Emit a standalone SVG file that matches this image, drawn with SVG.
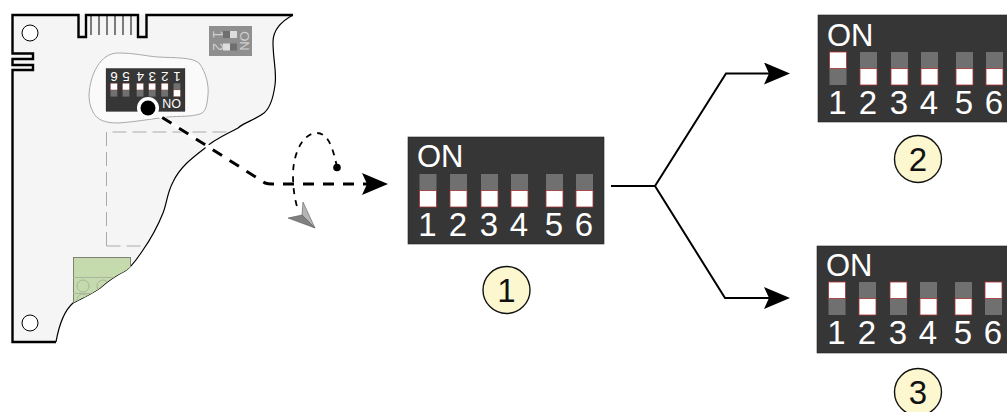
<svg xmlns="http://www.w3.org/2000/svg" width="1007" height="412" viewBox="0 0 1007 412">
<style>
.dip{fill:#363636;stroke:#222;stroke-width:.6}
.t{font-family:"Liberation Sans",Arial,sans-serif;fill:#fff;font-size:33px;text-anchor:middle}
.on{font-family:"Liberation Sans",Arial,sans-serif;fill:#fff;font-size:31px}
.g{fill:#707070}
.w{fill:#fff;stroke:#a33;stroke-width:.8}
.badge{fill:#fcf7cf;stroke:#111;stroke-width:1.4}
.num{font-family:"Liberation Sans",Arial,sans-serif;fill:#111;font-size:33px;text-anchor:middle}
.conn{fill:none;stroke:#000;stroke-width:2}
.dash{fill:none;stroke:#000;stroke-width:3;stroke-dasharray:11 9;stroke-dashoffset:-2.6}
.dot{fill:none;stroke:#000;stroke-width:1.8;stroke-dasharray:6 6}
.pcb{fill:none;stroke:#000}
.gd{fill:none;stroke:#aaa;stroke-width:1;stroke-dasharray:14 6}
.term{fill:none;stroke:#a9b59c;stroke-width:1}
.mini{font-family:"Liberation Sans",Arial,sans-serif;fill:#d0d0d0;text-anchor:middle}
</style>
<defs>
<marker id="ah" markerUnits="userSpaceOnUse" markerWidth="28" markerHeight="24" refX="5" refY="11" orient="auto"><path d="M0 0L26 11L0 22L5 11Z" fill="#000"/></marker>
<g id="d"><rect class="g" width="17" height="16.5" y="0"/><rect class="w" width="17" height="16.5" y="16.5"/></g>
<g id="u"><rect class="g" width="17" height="16.5" y="16.5"/><rect class="w" width="17" height="16.5" y="0"/></g>
<clipPath id="bc"><path d="M12 15H293C280 22 273 30 273 42C273 60 277 72 275 85C273 100 270 108 264 113C255 120 245 122 238 128C225 135 213 140 205 148C192 158 180 167 173 182C167 193 167 203 163 213C157 228 150 240 143 250C136 260 132 267 125 271C115 276 108 281 100 288C90 295 80 299 73 303C65 310 59 325 56 342H12Z"/></clipPath>
</defs>
<g id="board">
<path clip-path="url(#bc)" d="M0 0H300V350H0Z" fill="#f5f5f5"/>
<path class="pcb" stroke-width="2.400" d="M293 15H146.500V37H138V15H86V37H78.500V15H12.500V53.500H33V59H12.500V65H33V70H12.500V342H56"/>
<path class="pcb" stroke-width="1.200" d="M293 15C280 22 273 30 273 42C273 60 277 72 275 85C273 100 270 108 264 113C255 120 245 122 238 128C225 135 213 140 205 148C192 158 180 167 173 182C167 193 167 203 163 213C157 228 150 240 143 250C136 260 132 267 125 271C115 276 108 281 100 288C90 295 80 299 73 303C65 310 59 325 56 342"/>
<path class="pcb" stroke-width="1" d="M91 15V35M99 15V35M107 15V35M115 15V35M123 15V35M131 15V35"/>
<circle cx="30" cy="33" r="8" fill="#fff" stroke="#000" stroke-width="1"/>
<circle cx="30" cy="323" r="8" fill="#fff" stroke="#000" stroke-width="1"/>
<path class="gd" d="M106.500 246V132H232M106.500 246H147"/>
<g clip-path="url(#bc)">
<rect x="73.500" y="257.500" width="57" height="60" fill="#c5dbae" stroke="#7d8273" stroke-width="1"/>
<path class="term" d="M73 277.500H131M73 293.500H131"/>
<circle class="term" cx="83" cy="286" r="6"/><circle class="term" cx="103" cy="286" r="6"/><circle class="term" cx="83" cy="300" r="6"/>
</g>
<path d="M89 95C90 75 100 53 118 53C135 53 145 56 158 57C175 58 192 57 199 63C206 72 209 85 208 95C207 105 206 112 200 114C190 117 180 116 168 117C150 119 135 122 118 123C105 123 97 120 93 112C90 107 89 100 89 95Z" fill="#fafafa" stroke="#aaa" stroke-width="1"/>
<rect x="209" y="26" width="43" height="30" fill="#8f8f8f"/>
<text class="mini" font-size="14" transform="translate(213 34.500) rotate(90)">1</text>
<text class="mini" font-size="14" transform="translate(213 47) rotate(90)">2</text>
<text class="mini" font-size="13" transform="translate(240 41) rotate(90)">ON</text>
<rect x="223" y="31" width="7" height="7" fill="#6f6f6f"/><rect x="230" y="31" width="7" height="7" fill="#ddd"/>
<rect x="223" y="43.500" width="7" height="7" fill="#ddd"/><rect x="230" y="43.500" width="7" height="7" fill="#6f6f6f"/>
<g transform="translate(185 111.500) rotate(180) scale(.403)">
<rect class="dip" width="196" height="107"/>
<text class="on" x="10" y="30">ON</text>
<use href="#u" x="11.500" y="37"/><use href="#d" x="42" y="37"/><use href="#d" x="73" y="37"/><use href="#d" x="103" y="37"/><use href="#d" x="138" y="37"/><use href="#d" x="168" y="37"/>
<g class="t"><text x="19.500" y="99">1</text><text x="50" y="99">2</text><text x="81" y="99">3</text><text x="111" y="99">4</text><text x="146" y="99">5</text><text x="176" y="99">6</text></g>
</g>
<circle cx="148" cy="108" r="11" fill="#fff"/>
<circle cx="148" cy="108" r="7.500" fill="#000"/>
</g>
<g id="connectors">
<path d="M160 116L265 183H363" fill="none" stroke="#fff" stroke-width="4"/>
<path class="dash" d="M160 116L265 183Q268 184 272 184H367" marker-end="url(#ah)"/>
<path class="dot" d="M337 167C333 148 328 133 317 133C302 133 293 155 293 175C293 190 295 200 298 210"/>
<circle cx="337" cy="167.500" r="3.800" fill="#000"/>
<path d="M315 228L288 218L302 215Z" fill="#808080" stroke="#444" stroke-width=".5"/>
<path d="M315 228L303 202L302 215Z" fill="#b5b5b5" stroke="#444" stroke-width=".5"/>
<path class="conn" d="M611 186H655"/>
<path class="conn" d="M655 186L726 73.500H769" marker-end="url(#ah)"/>
<path class="conn" d="M655 186L725 298H769" marker-end="url(#ah)"/>
</g>
<g id="dip1" transform="translate(408 137)">
<rect class="dip" width="196" height="107"/>
<text class="on" x="9" y="30">ON</text>
<use href="#d" x="11.500" y="37"/><use href="#d" x="42" y="37"/><use href="#d" x="73" y="37"/><use href="#d" x="103" y="37"/><use href="#d" x="138" y="37"/><use href="#d" x="168" y="37"/>
<g class="t"><text x="19.500" y="99">1</text><text x="50" y="99">2</text><text x="81" y="99">3</text><text x="111" y="99">4</text><text x="146" y="99">5</text><text x="176" y="99">6</text></g>
</g>
<g id="dip2" transform="translate(818 15)">
<rect class="dip" width="196" height="107"/>
<text class="on" x="9" y="31">ON</text>
<use href="#u" x="11.500" y="37"/><use href="#d" x="42" y="37"/><use href="#d" x="73" y="37"/><use href="#d" x="103" y="37"/><use href="#d" x="138" y="37"/><use href="#d" x="168" y="37"/>
<g class="t"><text x="19.500" y="99">1</text><text x="50" y="99">2</text><text x="81" y="99">3</text><text x="111" y="99">4</text><text x="146" y="99">5</text><text x="176" y="99">6</text></g>
</g>
<g id="dip3" transform="translate(817 246)">
<rect class="dip" width="196" height="107"/>
<text class="on" x="9" y="30">ON</text>
<use href="#u" x="11.500" y="36"/><use href="#d" x="42" y="36"/><use href="#u" x="73" y="36"/><use href="#d" x="103" y="36"/><use href="#d" x="138" y="36"/><use href="#u" x="168" y="36"/>
<g class="t"><text x="19.500" y="98">1</text><text x="50" y="98">2</text><text x="81" y="98">3</text><text x="111" y="98">4</text><text x="146" y="98">5</text><text x="176" y="98">6</text></g>
</g>
<g id="badge1"><circle class="badge" cx="506.500" cy="290" r="23.500"/><text class="num" x="506.500" y="302">1</text></g>
<g id="badge2"><circle class="badge" cx="918" cy="159" r="23.500"/><text class="num" x="918" y="171">2</text></g>
<g id="badge3"><circle class="badge" cx="918" cy="392" r="23.500"/><text class="num" x="918" y="404">3</text></g>
</svg>
